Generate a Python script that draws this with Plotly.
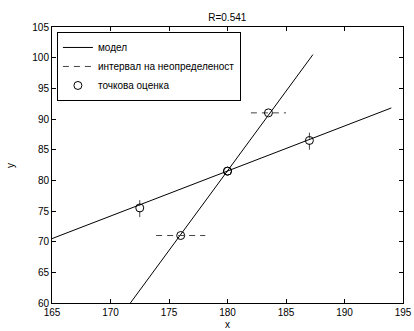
import plotly.graph_objects as go

# Model lines (endpoints)
line1_x = [165.0, 194.0]
line1_y = [70.5, 91.8]
line2_x = [171.7, 187.3]
line2_y = [60.0, 100.5]

# Point estimates
pt_x = [172.5, 187.0, 180.0, 180.0, 183.5, 176.0]
pt_y = [75.5, 86.5, 81.5, 81.5, 91.0, 71.0]
# Uncertainty half-widths (vertical / horizontal)
err_y = [1.5, 1.5, 0.0, 0.0, 0.0, 0.0]
err_x = [0.0, 0.0, 0.0, 0.0, 1.5, 2.1]

x_ticks = [165, 170, 175, 180, 185, 190, 195]
y_ticks = [60, 65, 70, 75, 80, 85, 90, 95, 100, 105]

# Build dashed uncertainty segments
seg_x, seg_y = [], []
for x, y, ex, ey in zip(pt_x, pt_y, err_x, err_y):
    if ey > 0:
        seg_x += [x, x, None]
        seg_y += [y - ey, y + ey, None]
    if ex > 0:
        seg_x += [x - ex, x + ex, None]
        seg_y += [y, y, None]

FONT = "Liberation Sans, Arial, sans-serif"

fig = go.Figure()
fig.add_trace(go.Scatter(x=line1_x, y=line1_y, mode="lines",
                         line=dict(color="black", width=1), name="модел"))
fig.add_trace(go.Scatter(x=line2_x, y=line2_y, mode="lines",
                         line=dict(color="black", width=1), name="модел",
                         showlegend=False))
fig.add_trace(go.Scatter(x=seg_x, y=seg_y, mode="lines",
                         line=dict(color="#444444", width=1, dash="6px,5px"),
                         name="интервал на неопределеност"))
fig.add_trace(go.Scatter(x=pt_x, y=pt_y, mode="markers",
                         marker=dict(symbol="circle-open", size=8,
                                     color="black", line=dict(width=1)),
                         name="точкова оценка"))

axis_common = dict(showgrid=False, zeroline=False, showline=True,
                   linecolor="black", linewidth=1, mirror="ticks",
                   ticks="inside", ticklen=4, tickcolor="black", automargin=False,
                   tickfont=dict(family=FONT, size=10, color="black"))

fig.update_xaxes(range=[165, 195], tickvals=x_ticks, **axis_common)
fig.update_yaxes(range=[60, 105], tickvals=y_ticks, **axis_common)

lab_font = dict(family=FONT, size=10, color="black")
fig.update_layout(
    width=414, height=331,
    margin=dict(l=52, r=11, t=27, b=28),
    paper_bgcolor="white", plot_bgcolor="white",
    title=dict(text="R=0.541", x=0.549, xanchor="center", y=0.948, yanchor="middle",
               font=lab_font),
    font=lab_font,
    legend=dict(x=0.014, y=0.982, xanchor="left", yanchor="top",
                bgcolor="white", bordercolor="black", borderwidth=1,
                font=lab_font, tracegroupgap=0, itemwidth=30),
    showlegend=True,
    annotations=[
        dict(text="x", xref="paper", yref="paper", x=0.5, y=-0.079,
             xanchor="center", yanchor="middle", showarrow=False, font=lab_font),
        dict(text="y", xref="paper", yref="paper", x=-0.12, y=0.5,
             xanchor="center", yanchor="middle", textangle=-90,
             showarrow=False, font=lab_font),
    ],
)

fig.write_html("out.html")
